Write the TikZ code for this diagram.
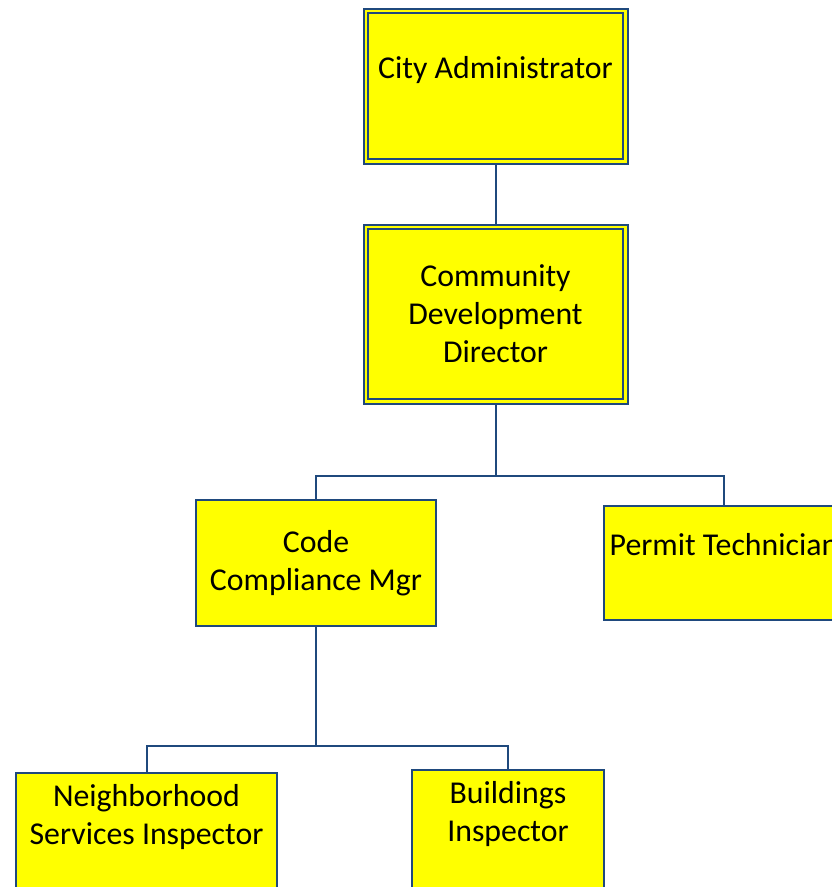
\documentclass[tikz,border=0pt]{standalone}
\usepackage{fontspec}
\setmainfont{Carlito}
\definecolor{orgblue}{RGB}{31,73,125}
\definecolor{orgyellow}{RGB}{255,255,0}
\tikzset{
  post/.style={draw=orgblue, fill=orgyellow, line width=2pt, inner sep=2pt, align=center, font=\fontsize{31.8}{38}\selectfont},
  head/.style={post, double=orgyellow, double distance=2.5pt, outer sep=3.25pt},
  link/.style={draw=orgblue, line width=2pt}
}

\begin{document}
\begin{tikzpicture}[x=1pt, y=-1pt]
    \useasboundingbox (0,0) rectangle (832,887);
    \clip (0,0) rectangle (832,887);
    \node [head, minimum width=259.5pt, minimum height=150.5pt] (admin) at (495.5,86) {City Administrator\\ \mbox{}};
    \node [head, minimum width=259.5pt, minimum height=174.5pt] (cdd) at (495.5,314) {Community\\ Development\\ Director};
    \node [post, minimum width=240pt, minimum height=126pt] (ccm) at (316,563) {Code\\ Compliance Mgr};
    \node [post, minimum width=240pt, minimum height=114pt] (pt) at (724,563) {Permit Technician\\ \mbox{}};
    \node [post, minimum width=261pt, minimum height=120pt] (nsi) at (146.5,833) {Neighborhood\\ Services Inspector\\ \mbox{}};
    \node [post, minimum width=192pt, minimum height=120pt] (bi) at (508,830) {Buildings\\ Inspector\\ \mbox{}};
    \coordinate (bus1) at (495.5,476);
    \coordinate (bus2) at (316,746);
    \draw [link] (admin.south) -- (cdd.north);
    \draw [link] (cdd.south) -- (bus1);
    \draw [link] (ccm.north) |- (bus1) -| (pt.north);
    \draw [link] (ccm.south) -- (bus2);
    \draw [link] (nsi.north) |- (bus2) -| (bi.north);
\end{tikzpicture}
\end{document}
